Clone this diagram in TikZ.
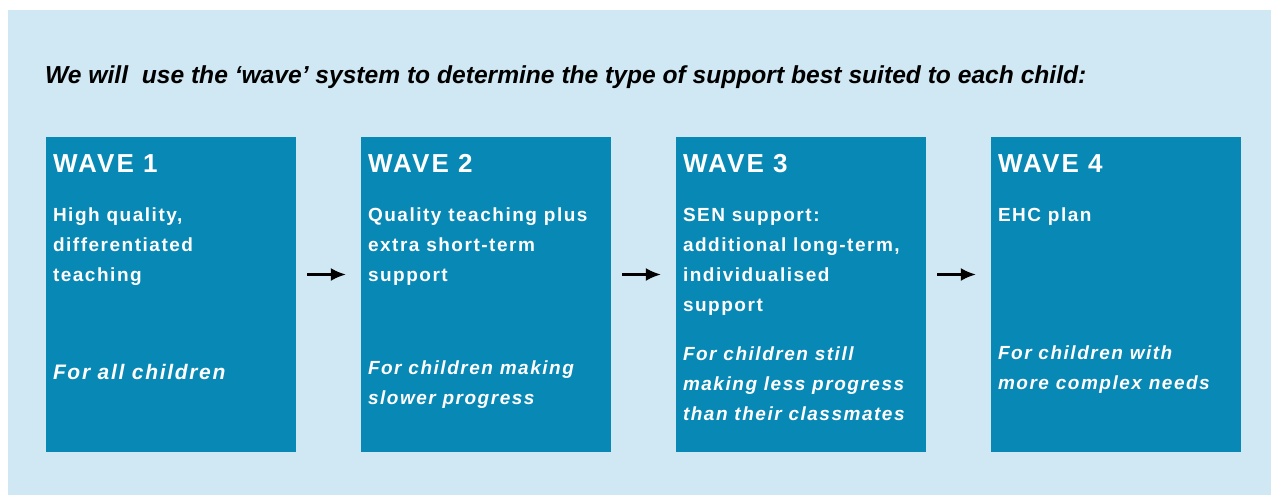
\documentclass[tikz,border=0pt]{standalone}
\usepackage{fontspec}
\setmainfont{Liberation Sans}
\newfontfamily\wavefont[LetterSpace=8]{Liberation Sans}
\usetikzlibrary{arrows.meta, positioning}
\definecolor{panel}{RGB}{207,232,243}
\definecolor{wavefill}{RGB}{8,136,181}
\tikzstyle{wave} = [fill=wavefill, rectangle, minimum width=250pt, minimum height=315pt, inner sep=0pt]
\tikzstyle{head} = [anchor=base west, inner sep=0pt, text=white, font=\wavefont\bfseries\fontsize{26}{30}\selectfont]
\tikzstyle{body} = [anchor=base west, inner sep=0pt, text=white, align=left, font=\wavefont\bfseries\fontsize{19}{30}\selectfont]
\tikzstyle{note} = [body, font=\wavefont\bfseries\itshape\fontsize{19}{30}\selectfont]
\tikzstyle{link} = [->, line width=2.2pt, shorten <=11pt, shorten >=15pt]

\begin{document}
\begin{tikzpicture}[x=1pt, y=-1pt, >={Latex[length=15pt,width=13pt]}, node distance=315pt]
  \useasboundingbox (0,0) rectangle (1271,495);
  \fill [panel] (8,10) rectangle (1271,495);
  \node [anchor=base west, inner sep=0pt, font=\bfseries\itshape\fontsize{24.6}{28}\selectfont] (title) at (45,83) {We will~ use the ‘wave’ system to determine the type of support best suited to each child:};
  \node [wave] (w1) at (171,294.5) {};
  \node [wave, right of=w1] (w2) {};
  \node [wave, right of=w2] (w3) {};
  \node [wave, right of=w3] (w4) {};
  % wave 1 (multi-line texts sit on their last line)
  \node [head] (h1) at ([shift={(7pt,-36pt)}]w1.north west) {WAVE 1};
  \node [body] (b1) at ([shift={(7pt,-145pt)}]w1.north west) {High quality,\\differentiated\\teaching};
  \node [note, font=\wavefont\bfseries\itshape\fontsize{21}{30}\selectfont] (n1) at ([shift={(7pt,-243pt)}]w1.north west) {For all children};
  % wave 2
  \node [head] (h2) at ([shift={(7pt,-36pt)}]w2.north west) {WAVE 2};
  \node [body] (b2) at ([shift={(7pt,-145pt)}]w2.north west) {Quality teaching plus\\extra short-term\\support};
  \node [note] (n2) at ([shift={(7pt,-268pt)}]w2.north west) {For children making\\slower progress};
  % wave 3
  \node [head] (h3) at ([shift={(7pt,-36pt)}]w3.north west) {WAVE 3};
  \node [body] (b3) at ([shift={(7pt,-175pt)}]w3.north west) {SEN support:\\additional long-term,\\individualised\\support};
  \node [note] (n3) at ([shift={(7pt,-284pt)}]w3.north west) {For children still\\making less progress\\than their classmates};
  % wave 4
  \node [head] (h4) at ([shift={(7pt,-36pt)}]w4.north west) {WAVE 4};
  \node [body] (b4) at ([shift={(7pt,-85pt)}]w4.north west) {EHC plan};
  \node [note] (n4) at ([shift={(7pt,-253pt)}]w4.north west) {For children with\\more complex needs};
  \draw [link] ([yshift=20pt]w1.east) -- ([yshift=20pt]w2.west);
  \draw [link] ([yshift=20pt]w2.east) -- ([yshift=20pt]w3.west);
  \draw [link] ([yshift=20pt]w3.east) -- ([yshift=20pt]w4.west);
\end{tikzpicture}
\end{document}
